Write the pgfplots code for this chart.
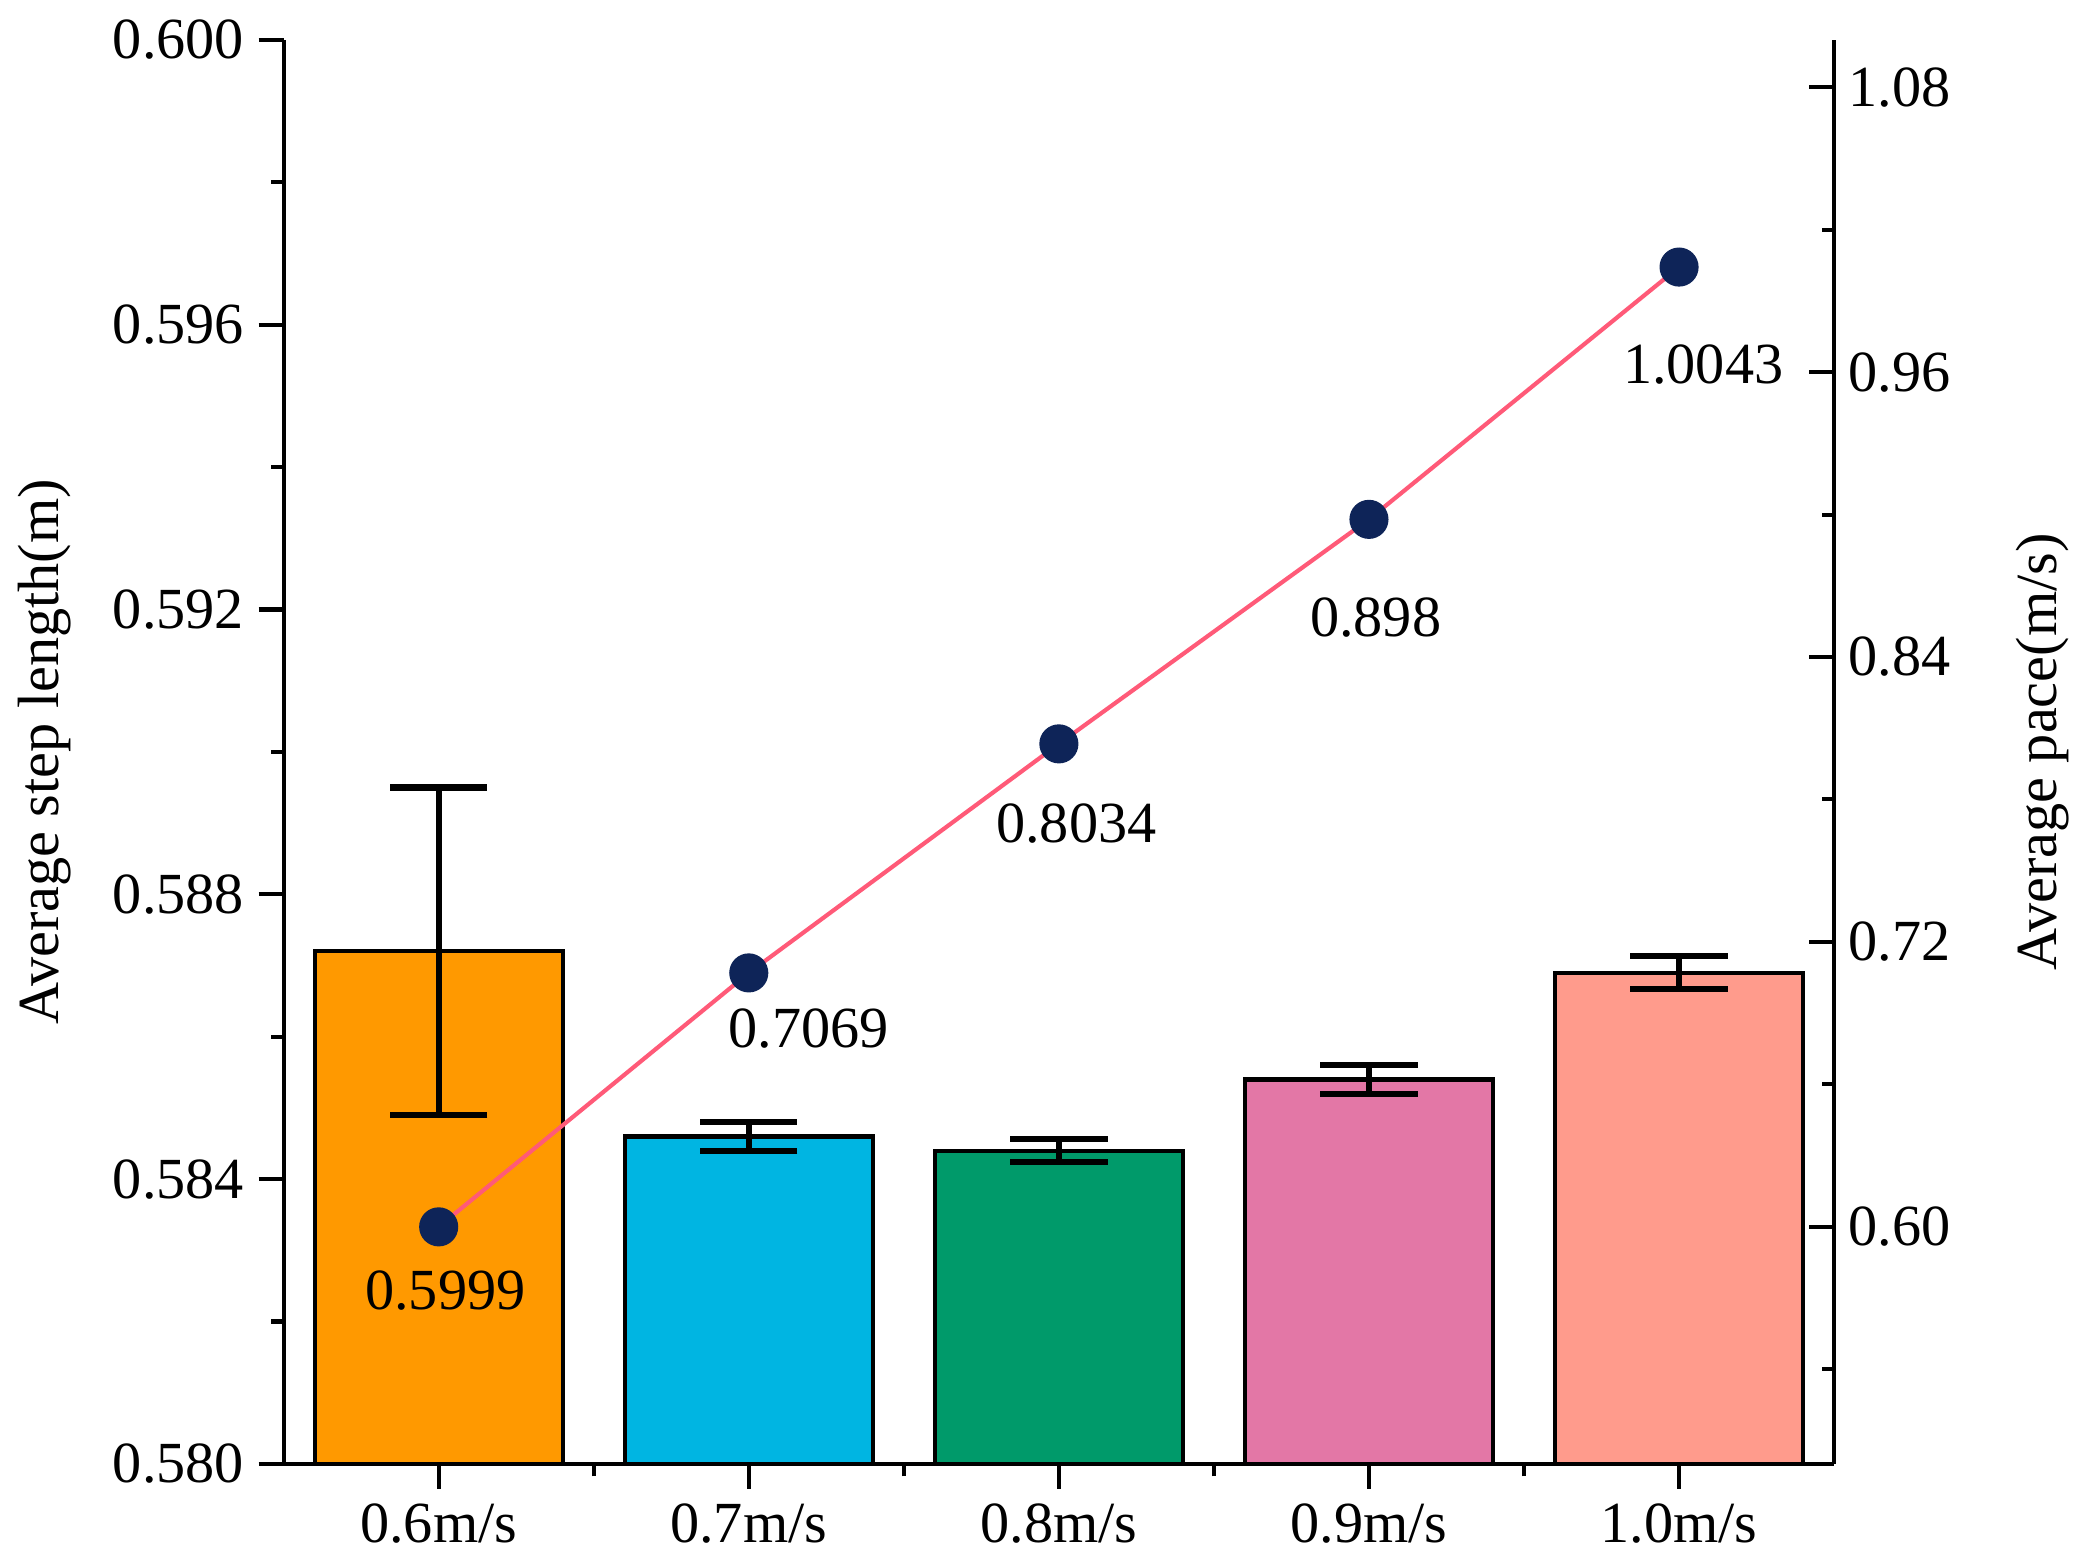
\documentclass[border=0pt]{standalone}
\usepackage{pgfplots}
\pgfplotsset{compat=1.18}
\usepackage{fontspec}
\setmainfont{Liberation Serif}
\definecolor{c1}{RGB}{255,153,0}
\definecolor{c2}{RGB}{0,181,226}
\definecolor{c3}{RGB}{0,154,106}
\definecolor{c4}{RGB}{227,119,166}
\definecolor{c5}{RGB}{255,155,140}
\definecolor{lcol}{RGB}{255,90,120}
\definecolor{navy}{RGB}{14,36,88}
\newcommand{\fs}{\fontsize{14}{16}\selectfont}
\begin{document}
\begin{tikzpicture}
\useasboundingbox (-68.2pt,-23pt) rectangle (433.6pt,352pt);
\pgfplotsset{
  common/.style={
    at={(0,0)}, anchor=south west,
    scale only axis, width=372.8pt, height=342.4pt,
    xmin=-0.5, xmax=4.5,
    /pgf/number format/assume math mode=true,
    ticklabel style={font=\fs},
    label style={font=\fs},
    major tick length=6pt, minor tick length=3pt,
    every tick/.style={black, line width=1pt},
    every minor tick/.style={black, line width=1pt},
    axis line style={line width=1pt},
  }
}
\begin{axis}[common,
  ymin=0.580, ymax=0.600,
  axis x line*=bottom, axis y line*=left,
  tick align=outside,
  xtick={0,1,2,3,4},
  xticklabels={0.6m/s,0.7m/s,0.8m/s,0.9m/s,1.0m/s},
  minor xtick={0.5,1.5,2.5,3.5},
  ytick={0.580,0.584,0.588,0.592,0.596,0.600},
  minor ytick={0.582,0.586,0.590,0.594,0.598},
  yticklabel style={/pgf/number format/fixed,/pgf/number format/fixed zerofill,/pgf/number format/precision=3},
  every axis y label/.style={at={(axis description cs:-0.1545,0.5)}, rotate=90, anchor=center, font=\fs},
  ylabel={Average step length(m)},
]
\pgfplotsset{errstyle/.style={error bars/.cd, y dir=both, y explicit,
   error bar style={line width=1.5pt, black},
   error mark options={rotate=90, mark size=11.7pt, line width=1.5pt, black}}}
\addplot[ybar, bar width=0.8, bar shift=0pt, fill=c1, draw=black, line width=1pt, errstyle] coordinates {(0,0.5872) +- (0,0.0023)};
\addplot[ybar, bar width=0.8, bar shift=0pt, fill=c2, draw=black, line width=1pt, errstyle] coordinates {(1,0.5846) +- (0,0.0002)};
\addplot[ybar, bar width=0.8, bar shift=0pt, fill=c3, draw=black, line width=1pt, errstyle] coordinates {(2,0.5844) +- (0,0.00016)};
\addplot[ybar, bar width=0.8, bar shift=0pt, fill=c4, draw=black, line width=1pt, errstyle] coordinates {(3,0.5854) +- (0,0.0002)};
\addplot[ybar, bar width=0.8, bar shift=0pt, fill=c5, draw=black, line width=1pt, errstyle] coordinates {(4,0.5869) +- (0,0.00023)};
\end{axis}
\begin{axis}[common,
  ymin=0.5, ymax=1.1,
  axis x line=none, axis y line*=right,
  tick align=inside,
  ytick={0.60,0.72,0.84,0.96,1.08},
  minor ytick={0.54,0.66,0.78,0.90,1.02},
  yticklabel style={/pgf/number format/fixed,/pgf/number format/fixed zerofill,/pgf/number format/precision=2},
  every axis y label/.style={at={(axis description cs:1.1347,0.5)}, rotate=90, anchor=center, font=\fs},
  ylabel={Average pace(m/s)},
]
\addplot[color=lcol, line width=1pt, mark=*, mark size=4.2pt, mark options={fill=navy, draw=navy}] coordinates {(0,0.5999) (1,0.7069) (2,0.8034) (3,0.898) (4,1.0043)};
\node[font=\fs, xshift=1.6pt, yshift=-15.4pt] at (axis cs:0,0.5999) {0.5999};
\node[font=\fs, xshift=14.4pt, yshift=-13.4pt] at (axis cs:1,0.7069) {0.7069};
\node[font=\fs, xshift=4.2pt, yshift=-19.2pt] at (axis cs:2,0.8034) {0.8034};
\node[font=\fs, xshift=1.6pt, yshift=-23.7pt] at (axis cs:3,0.898) {0.898};
\node[font=\fs, xshift=5.8pt, yshift=-23.4pt] at (axis cs:4,1.0043) {1.0043};
\end{axis}
\end{tikzpicture}
\end{document}
